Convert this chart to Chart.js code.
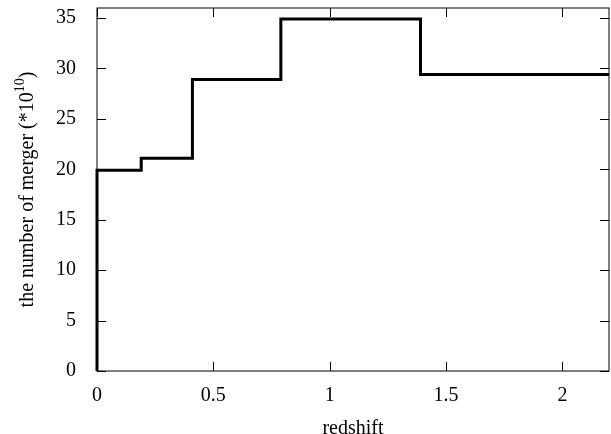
<!DOCTYPE html>
<html>
<head>
<meta charset="utf-8">
<script src="https://cdn.jsdelivr.net/npm/chart.js@4.4.0/dist/chart.umd.min.js"></script>
<style>
  html, body { margin: 0; padding: 0; background: #fff; }
  #wrap { width: 611px; height: 434px; }
</style>
</head>
<body>
<div id="wrap"><canvas id="c" width="611" height="434"></canvas></div>
<script>
// ─── DATA ────────────────────────────────────────────────────────────────────
// step edges (redshift) and merger counts (*10^10) for each bin
const binEdges  = [0, 0.19, 0.41, 0.79, 1.39, 2.2];
const binCounts = [19.9, 21.1, 28.9, 34.9, 29.4];
const xTicks = [0, 0.5, 1, 1.5, 2];
const yTicks = [0, 5, 10, 15, 20, 25, 30, 35];
const xRange = [0, 2.2];
const yRange = [0, 36];

// (x_i, v_i) points drawn with step-before interpolation
const points = [{ x: binEdges[0], y: 0 }];
binCounts.forEach((v, i) => points.push({ x: binEdges[i], y: v }));
points.push({ x: binEdges[binEdges.length - 1], y: binCounts[binCounts.length - 1] });

const FONT = "'Liberation Serif', 'DejaVu Serif', serif";
Chart.defaults.font.family = FONT;
Chart.defaults.font.size = 20;
Chart.defaults.color = '#000';

// frame + inward ticks on all four sides (gnuplot style)
const framePlugin = {
  id: 'frame',
  afterDraw(chart) {
    const { ctx, chartArea: a, scales } = chart;
    const len = 9;
    ctx.save();
    ctx.strokeStyle = '#000';
    ctx.lineWidth = 1;
    ctx.strokeRect(a.left, a.top, a.right - a.left, a.bottom - a.top);
    ctx.beginPath();
    scales.x.ticks.forEach(t => {
      const px = Math.round(scales.x.getPixelForValue(t.value)) + 0.5;
      ctx.moveTo(px, a.bottom); ctx.lineTo(px, a.bottom - len);
      ctx.moveTo(px, a.top);    ctx.lineTo(px, a.top + len);
    });
    scales.y.ticks.forEach(t => {
      const py = Math.round(scales.y.getPixelForValue(t.value)) + 0.5;
      ctx.moveTo(a.left, py);  ctx.lineTo(a.left + len, py);
      ctx.moveTo(a.right, py); ctx.lineTo(a.right - len, py);
    });
    ctx.stroke();

    // y title with superscript exponent
    const main = 'the number of merger (*10', sup = '10', end = ')';
    ctx.fillStyle = '#000';
    ctx.translate(28, (a.top + a.bottom) / 2);
    ctx.rotate(-Math.PI / 2);
    ctx.textBaseline = 'middle';
    ctx.font = `20px ${FONT}`;
    const w1 = ctx.measureText(main).width, w3 = ctx.measureText(end).width;
    ctx.font = `14px ${FONT}`;
    const w2 = ctx.measureText(sup).width;
    let x = -(w1 + w2 + w3) / 2;
    ctx.font = `20px ${FONT}`;
    ctx.fillText(main, x, 0); x += w1;
    ctx.font = `14px ${FONT}`;
    ctx.fillText(sup, x, -8); x += w2;
    ctx.font = `20px ${FONT}`;
    ctx.fillText(end, x, 0);
    ctx.restore();
  }
};

new Chart(document.getElementById('c'), {
  type: 'line',
  data: {
    datasets: [{
      data: points,
      stepped: 'before',
      borderColor: '#000',
      borderWidth: 3,
      pointRadius: 0,
      fill: false,
      clip: 6
    }]
  },
  options: {
    responsive: false,
    animation: false,
    layout: { padding: { top: 8, right: 2, left: 0, bottom: 0 } },
    plugins: { legend: { display: false }, tooltip: { enabled: false } },
    scales: {
      x: {
        type: 'linear',
        min: xRange[0], max: xRange[1],
        afterBuildTicks: s => { s.ticks = xTicks.map(v => ({ value: v })); },
        afterFit: s => { s.height = 63; s.paddingLeft = 0; s.paddingRight = 0; },
        grid: { display: false },
        border: { display: false },
        ticks: { padding: 5, maxRotation: 0, callback: v => String(v) },
        title: { display: true, text: 'redshift', padding: { top: 0, bottom: -7 } }
      },
      y: {
        min: yRange[0], max: yRange[1],
        afterBuildTicks: s => { s.ticks = yTicks.map(v => ({ value: v })); },
        afterFit: s => { s.width = 97; s.paddingTop = 0; s.paddingBottom = 0; },
        grid: { display: false },
        border: { display: false },
        ticks: { padding: 13, callback: v => String(v) }
      }
    }
  },
  plugins: [framePlugin]
});
</script>
</body>
</html>
